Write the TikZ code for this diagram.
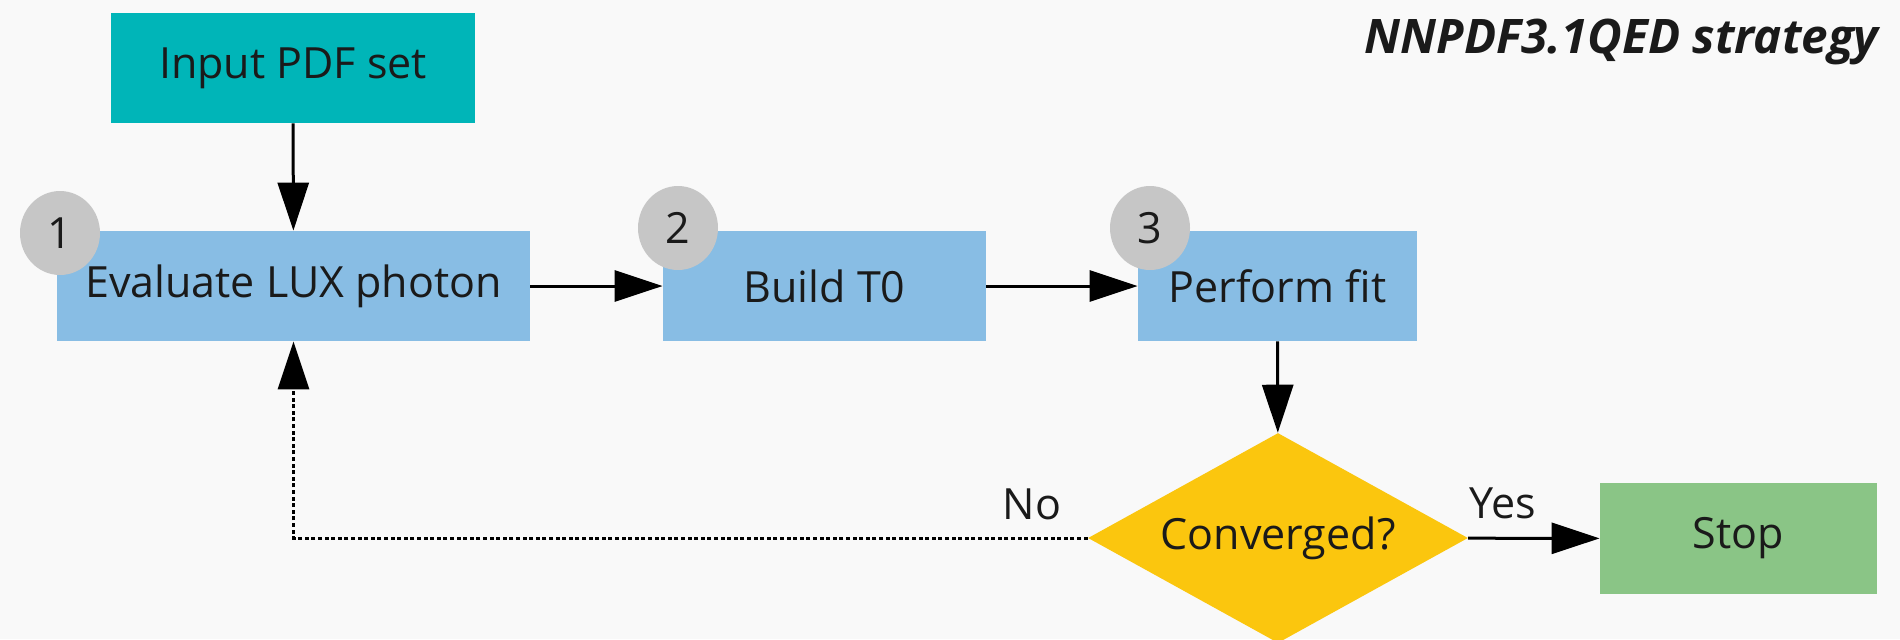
\documentclass[tikz,border=0pt]{standalone}
\usepackage{fontspec}
\setmainfont{Open Sans}
\usetikzlibrary{shapes.geometric,arrows.meta}
\definecolor{cbg}{HTML}{F9F9F9}
\definecolor{cinput}{HTML}{00B5B8}
\definecolor{cstep}{HTML}{88BDE4}
\definecolor{cdec}{HTML}{FBC60E}
\definecolor{cstop}{HTML}{8AC586}
\definecolor{ccirc}{HTML}{C6C6C6}
\definecolor{ctext}{HTML}{1A1A1A}
\begin{document}
\begin{tikzpicture}[x=0.5pt,y=-0.5pt,
  lbl/.style={font=\fontsize{21.5}{25}\selectfont, text=ctext, inner sep=0pt},
  box/.style={lbl, rectangle, minimum height=55pt},
  numcirc/.style={lbl, circle, fill=ccirc, minimum width=40pt, minimum height=42pt, ellipse},
  titlestyle/.style={font=\fontsize{23.8}{28}\selectfont\bfseries\itshape, text=ctext, inner sep=0pt},
  flow/.style={-{Triangle[length=24pt,width=15.5pt]}, line width=1.5pt, draw=black},
  loopline/.style={flow, line width=1.5pt, dash pattern=on 2pt off 1.3pt}]
\path[use as bounding box, fill=cbg] (0,0) rectangle (1900,639);
\node[box, fill=cinput, minimum width=182pt] (input) at (293,68) {Input PDF set};
\node[box, fill=cstep, minimum width=236.5pt] (lux) at (293.5,286) {Evaluate LUX photon};
\node[box, fill=cstep, minimum width=161.5pt] (t0) at (824.5,286) {Build T0};
\node[box, fill=cstep, minimum width=139.5pt] (fit) at (1277.5,286) {Perform fit};
\node[lbl, diamond, fill=cdec, aspect=1.8, minimum width=190pt, minimum height=105pt] (conv) at (1278,538) {Converged?};
\node[box, fill=cstop, minimum width=138.5pt, minimum height=55.5pt] (stop) at (1738.5,538.5) {Stop};
\node[numcirc] (n1) at (60,233) {1};
\node[numcirc] (n2) at (678,228) {2};
\node[numcirc] (n3) at (1150,228) {3};
\node[titlestyle, anchor=base east] (title) at (1879,53) {NNPDF3.1QED strategy};
\draw[flow] (input) -- (lux);
\draw[flow] (lux) -- (t0);
\draw[flow] (t0) -- (fit);
\draw[flow] (fit) -- (conv);
\draw[flow] (conv) -- (stop);
\coordinate (corner) at (lux.south |- conv.west);
\draw[loopline] (conv.west) -- (corner) -- (lux.south);
\node[lbl] (yes) at (1503,503) {Yes};
\node[lbl] (no) at (1032,504) {No};
\end{tikzpicture}
\end{document}
